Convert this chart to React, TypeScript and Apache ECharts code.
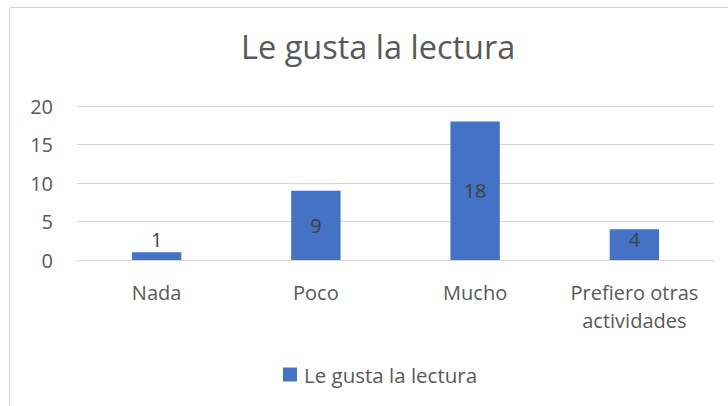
import React, { useEffect, useRef } from "react";
import * as echarts from "echarts";

const categories = ["Nada", "Poco", "Mucho", "Prefiero otras actividades"];
const values = [1, 9, 18, 4];
const labelPositions = ["top", "inside", "inside", "insideTop"];
const seriesName = "Le gusta la lectura";
const titleText = "Le gusta la lectura";

export default function App() {
  const ref = useRef<HTMLDivElement>(null);
  useEffect(() => {
    if (!ref.current) return;
    const chart = echarts.init(ref.current, null, { renderer: "svg" });
    const font = "'Open Sans', sans-serif";
    chart.setOption({
      animation: false,
      backgroundColor: "#ffffff",
      textStyle: { fontFamily: font },
      title: {
        text: titleText,
        left: 236,
        top: 25,
        textStyle: { fontFamily: font, fontSize: 32.5, fontWeight: "normal", color: "#595959" },
      },
      grid: { left: 77, right: 14, top: 106, bottom: 146 },
      legend: {
        bottom: 16,
        left: 278,
        icon: "rect",
        itemWidth: 14,
        itemHeight: 14,
        itemGap: 6,
        itemStyle: { borderWidth: 0 },
        data: [seriesName],
        textStyle: { fontFamily: font, fontSize: 20.5, color: "#595959", padding: [0, 0, 0, 2] },
      },
      xAxis: {
        type: "category",
        data: categories,
        axisLine: { lineStyle: { color: "#D9D9D9" } },
        axisTick: { show: false },
        axisLabel: {
          interval: 0,
          fontFamily: font,
          fontSize: 20,
          color: "#595959",
          margin: 18,
          lineHeight: 28,
          formatter: (v: string) => {
            const parts = v.split(" ");
            return parts.length > 2 ? parts.slice(0, 2).join(" ") + "\n" + parts.slice(2).join(" ") : v;
          },
        },
      },
      yAxis: {
        type: "value",
        min: 0,
        max: 20,
        interval: 5,
        axisLine: { show: false },
        axisTick: { show: false },
        splitLine: { lineStyle: { color: "#D9D9D9" } },
        axisLabel: { fontFamily: font, fontSize: 20, color: "#595959", margin: 24 },
      },
      series: [
        {
          name: seriesName,
          type: "bar",
          barWidth: "31%",
          itemStyle: { color: "#4472C4" },
          data: values.map((v, i) => ({
            value: v,
            label: { position: labelPositions[i], distance: i === 0 ? 3 : 0 },
          })),
          label: {
            show: true,
            fontFamily: font,
            fontSize: 20,
            color: "#404040",
          },
        },
      ],
      graphic: [
        {
          type: "rect",
          shape: { x: 9.5, y: 7.5, width: 740, height: 420 },
          style: { fill: "none", stroke: "#D9D9D9", lineWidth: 1 },
          silent: true,
        },
      ],
    });
    return () => chart.dispose();
  }, []);
  return (
    <div style={{ position: "absolute", left: 0, top: 0, width: 728, height: 406, background: "#fff" }}>
      <div ref={ref} style={{ width: 728, height: 406 }} />
    </div>
  );
}
